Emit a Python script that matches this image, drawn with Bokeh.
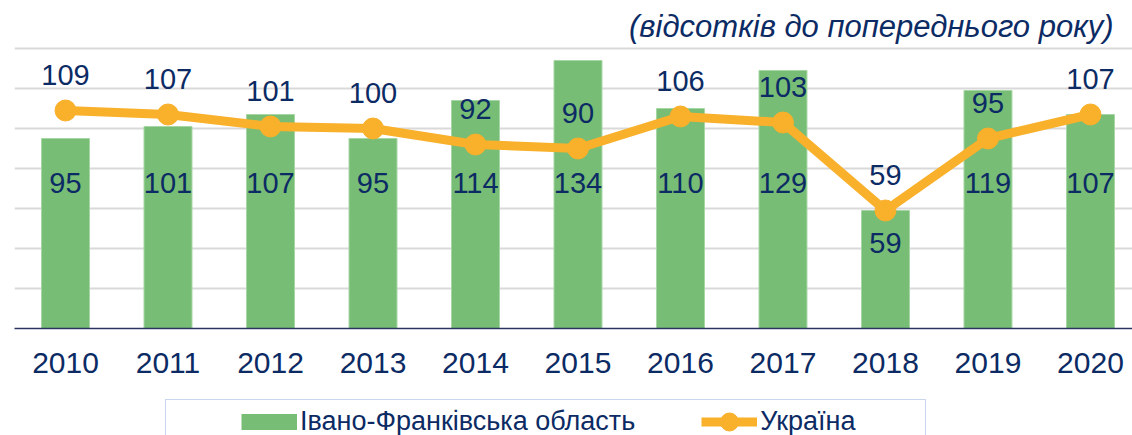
import numpy as np
from bokeh.plotting import figure
from bokeh.layouts import column
from bokeh.models import ColumnDataSource, FixedTicker, Legend, LegendItem, Label, Range1d
from bokeh.embed import file_html
from bokeh.resources import INLINE
from bokeh.core.properties import value

# ---- data ----
years = ["2010", "2011", "2012", "2013", "2014", "2015", "2016", "2017", "2018", "2019", "2020"]
oblast = [95, 101, 107, 95, 114, 134, 110, 129, 59, 119, 107]
ukraine = [109, 107, 101, 100, 92, 90, 106, 103, 59, 95, 107]
series_names = ["Івано-Франківська область", "Україна"]
title_text = "(відсотків до  попереднього року)"
grid_ticks = [20, 40, 60, 80, 100, 120, 140]

# ---- styles ----
NAVY = "#0c2b64"
GREEN = "#77bd75"
ORANGE = "#f9b02b"
FONT = "Liberation Sans"

xs = np.arange(len(years))
ob = np.array(oblast, dtype=float)
uk = np.array(ukraine, dtype=float)
src = ColumnDataSource(dict(
    x=xs, year=years, oblast=ob, ukraine=uk,
    oblast_label=[str(v) for v in oblast],
    ukraine_label=[str(v) for v in ukraine],
    oblast_ly=np.minimum(ob - 16, 73),
    ukraine_ly=uk + 18,
))

p = figure(width=1132, height=395, output_backend="svg", toolbar_location=None,
           x_range=Range1d(-0.4976, 10.41), y_range=Range1d(0, 160),
           y_axis_location=None, min_border_left=14, min_border_right=0,
           min_border_top=8, min_border_bottom=67)
p.outline_line_color = None
p.background_fill_color = "white"
p.border_fill_color = "white"
p.xgrid.visible = False
p.ygrid.ticker = FixedTicker(ticks=grid_ticks)
p.ygrid.grid_line_color = "#d9d9d9"
p.ygrid.grid_line_width = 2

bars = p.vbar(x="x", top="oblast", width=0.468, source=src,
              fill_color=GREEN, line_color="#a6d6a4", line_width=1)
line = p.line("x", "ukraine", source=src, line_color=ORANGE, line_width=9)
pts = p.scatter("x", "ukraine", source=src, size=21, fill_color=ORANGE, line_color=ORANGE)

p.text(x="x", y="oblast_ly", text="oblast_label", source=src,
       text_align="center", text_baseline="middle", text_font=value(FONT),
       text_font_size="29px", text_color=NAVY)
p.text(x="x", y="ukraine_ly", text="ukraine_label", source=src,
       text_align="center", text_baseline="middle", text_font=value(FONT),
       text_font_size="29px", text_color=NAVY)

ax = p.xaxis[0]
ax.ticker = FixedTicker(ticks=[int(i) for i in xs])
ax.major_label_overrides = {int(i): y for i, y in zip(xs, years)}
ax.axis_line_color = "#2e3461"
ax.axis_line_width = 1.5
ax.major_tick_line_color = None
ax.minor_tick_line_color = None
ax.major_label_standoff = 18
ax.major_label_text_font = FONT
ax.major_label_text_font_size = "30px"
ax.major_label_text_color = NAVY

p.add_layout(Label(x=10.31, y=151, text=title_text, text_align="right",
                   text_baseline="middle", text_font=FONT, text_font_style="italic",
                   text_font_size="31px", text_color=NAVY))

# ---- legend strip ----
q = figure(width=1132, height=40, output_backend="svg", toolbar_location=None,
           x_range=Range1d(0, 1), y_range=Range1d(0, 1),
           x_axis_location=None, y_axis_location=None,
           min_border_left=0, min_border_right=0, min_border_top=0, min_border_bottom=0)
q.outline_line_color = None
q.grid.visible = False
q.background_fill_color = "white"
q.border_fill_color = "white"

# key renderers: series data, which lies outside this strip's 0..1 range
backdrop_r = q.line(x=xs, y=uk, line_alpha=0)
green_key = q.line(x=xs, y=ob, line_color=GREEN, line_width=16)
orange_line_key = q.line(x=xs, y=uk, line_color=ORANGE, line_width=9)
orange_dot_key = q.scatter(x=xs, y=uk, fill_color=ORANGE, line_color=ORANGE)

backdrop = Legend(items=[LegendItem(label=" ", renderers=[backdrop_r])],
                  location=(151, -26), orientation="horizontal",
                  glyph_width=759, glyph_height=60, label_width=0, label_standoff=0,
                  padding=0, margin=0, border_line_color="#94aedd", border_line_width=1.5,
                  background_fill_color="white", background_fill_alpha=1,
                  label_text_font_size="1px")
q.add_layout(backdrop)

legend = Legend(items=[LegendItem(label=series_names[0], renderers=[green_key]),
                       LegendItem(label=series_names[1], renderers=[orange_line_key, orange_dot_key])],
                location=(227, -8.5), orientation="horizontal",
                glyph_width=56, glyph_height=45, label_standoff=3, spacing=66,
                padding=0, margin=0, border_line_alpha=0, background_fill_alpha=0,
                label_text_font=FONT, label_text_font_size="27px", label_text_color=NAVY)
q.add_layout(legend)

open("out.html", "w").write(file_html(column(p, q), INLINE))
